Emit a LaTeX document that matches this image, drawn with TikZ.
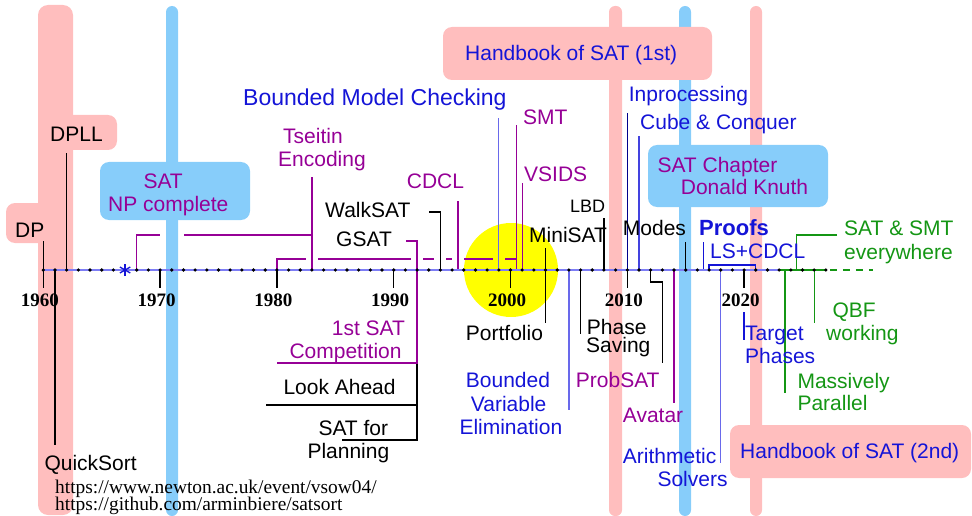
\documentclass[tikz,border=0pt]{standalone}
\usepackage{fontspec}
\setmainfont{Liberation Sans}
\newfontfamily\yearfont{Liberation Serif}

\definecolor{barpink}{RGB}{255,190,190}
\definecolor{barblue}{RGB}{135,205,250}
\definecolor{hlyellow}{RGB}{255,255,0}
\definecolor{evpurple}{RGB}{150,0,150}
\definecolor{evblue}{RGB}{20,20,215}
\definecolor{evgreen}{RGB}{20,150,20}
\definecolor{evlightblue}{RGB}{105,105,235}
\definecolor{evnavy}{RGB}{0,0,140}
\definecolor{axisblue}{RGB}{125,125,245}

\tikzset{
  txt/.style={anchor=base west, inner sep=0pt, font=\fontsize{21}{23.5}\selectfont},
  txtsmall/.style={txt, font=\fontsize{18}{20}\selectfont},
  txtbig/.style={txt, font=\fontsize{23}{26}\selectfont},
  txtbold/.style={txt, font=\bfseries\fontsize{22}{25}\selectfont},
  yearlbl/.style={anchor=base, inner sep=0pt, font=\yearfont\bfseries\fontsize{19}{19}\selectfont},
  urltxt/.style={anchor=base west, inner sep=0pt, font=\yearfont\fontsize{19.4}{17}\selectfont},
  link/.style={line width=1.3pt},
  pinkbar/.style={fill=barpink, rounded corners=6pt},
  bluebar/.style={fill=barblue, rounded corners=6pt},
  pinkbox/.style={fill=barpink, rounded corners=9pt},
  bluebox/.style={fill=barblue, rounded corners=9pt},
}

\begin{document}
\begin{tikzpicture}[x=1pt,y=-1pt,
  declare function={yx(\t)=43.3+11.68*(\t-1960);}]
\useasboundingbox (0,0) rectangle (972,516);

% positions of the years on the time line
\foreach \yr in {1960,...,2027}
  \coordinate (Y\yr) at ({yx(\yr)},270);
\coordinate (Ycdcl)   at ({yx(1995.5)},270);
\coordinate (Ysmt)    at ({yx(2000.5)},270);
\coordinate (Yproofs) at ({yx(2016.5)},270);
\coordinate (Ympar)   at ({yx(2023.5)},270);
\coordinate (Yall)    at ({yx(2024.5)},270);

% background bars and boxes
\fill[pinkbar, rounded corners=10pt] (38,5) rectangle (73,515);
\fill[bluebar] (166,6) rectangle (178,516);
\fill[pinkbar] (609,6) rectangle (622,516);
\fill[bluebar] (679,6) rectangle (691,516);
\fill[pinkbar] (750,6) rectangle (762,516);

\fill[pinkbox] (6,203) rectangle (50,243);
\fill[pinkbox] (45,115) rectangle (117,150);
\fill[bluebox] (100,162) rectangle (250,220);
\fill[pinkbox] (443,27) rectangle (712,80);
\fill[bluebox] (648,145) rectangle (828,207);
\fill[pinkbox] (730,425) rectangle (971,478);

\fill[hlyellow] (511,270) circle[radius=47pt];

% black connectors
\draw[link] (Y1960) -- ++(0,-29);
\draw[link] (Y1962) -- ++(0,-117);
\draw[link] (Y1961) -- ++(0,175);
\draw[link] (Y1994) |- (429,212);
\draw[link] (Y2003) ++(0,-22) -- ++(0,75);
\draw[link] (Y2008) -- ++(0,-52);
\draw[link] (Y2015) -- ++(0,-28);
\draw[link] (Y2006) -- ++(0,64);
\draw[link] (Y2012) -- ++(0,12) -| (662.3,363);
\draw[link] (266,405) -- (417.06,405);
\draw[link] (417.06,363) -- (417.06,440) -- (342,440);

% purple connectors
\draw[link, evpurple] (Y1968) |- (160,235);
\draw[link, evpurple] (184,235) -- (311.94,235);
\draw[link, evpurple] (Y1983) -- ++(0,-93);
\draw[link, evpurple] (Y1980) |- (306,259);
\draw[link, evpurple] (318,259) -- (411,259);
\draw[link, evpurple] (423,259) -- (434.4,259);
\draw[link, evpurple] (446.4,259) -- (452.3,259);
\draw[link, evpurple] (464.3,259) -- (493,259);
\draw[link, evpurple] (505,259) -- (516.7,259);
\draw[link, evpurple] (Ysmt) -- ++(0,-145);
\draw[link, evpurple] (406,241) -| (417.06,363) -- (276.9,363);
\draw[link, evpurple] (Ycdcl) -- ++(0,-69);
\draw[link, evpurple] (Y2001) -- ++(0,-87);
\draw[link, evpurple] (Y2014) -- ++(0,133);

% blue connectors
\draw[link, evlightblue] (Y1999) -- ++(0,-152);
\draw[link, evlightblue] (Y2005) -- ++(0,140);
\draw[link, evlightblue] (Y2018) -- ++(0,193);
\draw[link, evnavy] (Y2010) -- ++(0,-157);
\draw[link, evblue!80!white] (Y2011) -- ++(0,-134);
\draw[link, evblue] (Yproofs) -- ++(0,-28);
\draw[link, evblue] (Y2017) -- ++(0,-5) -| (Y2021);
\draw[link, evblue] (744.1,312) -- (744.1,340);

% green connectors
\draw[link, evgreen] (837,235) -| (Yall);
\draw[link, evgreen] (Y2026) -- ++(0,53);
\draw[link, evgreen] (Ympar) -- ++(0,123);

% time line
\draw[axisblue, line width=1.8pt] (Y1960) -- (779,270);
\draw[evgreen, line width=1.5pt] (779,270) -- (Y2027);
\draw[evgreen, line width=1.5pt, dash pattern=on 7pt off 6pt] (Y2027) ++(4,0) -- (873,270);
\foreach \yr in {1960,1970,...,2020}
  \draw[link] (Y\yr) -- ++(0,18);
\foreach \yr in {1960,...,2027}
  \fill (Y\yr) circle[radius=1.8pt];
\foreach \a in {90,30,150}
  \draw[evblue, line width=1.3pt] (Y1967) ++(\a:6) -- ++(\a+180:12);
\foreach \yr in {1960,1970,...,2020}
  \node[yearlbl] (L\yr) at ({yx(\yr)-3.5},306) {\yr};

% black labels
\node[txt] (dp) at (15,237.5) {DP};
\node[txt] (dpll) at (50,142) {DPLL};
\node[txt] (walksat) at (325,217.3) {WalkSAT};
\node[txt] (gsat) at (336,246.7) {GSAT};
\node[txt] (minisat) at (529,242.3) {MiniSAT};
\node[txtsmall] (lbd) at (570,212.3) {LBD};
\node[txt] (modes) at (622.7,235.7) {Modes};
\node[txt] (portfolio) at (465.7,340) {Portfolio};
\node[txt] (phaseA) at (586.7,334.3) {Phase};
\node[txt] (phaseB) at (586,352.7) {Saving};
\node[txt] (lookahead) at (283.3,394) {Look Ahead};
\node[txt] (planA) at (318.3,435) {SAT for};
\node[txt] (planB) at (307.3,458.3) {Planning};
\node[txt] (quicksort) at (44.3,470) {QuickSort};
\node[urltxt] (urlA) at (55,493.3) {https://www.newton.ac.uk/event/vsow04/};
\node[urltxt] (urlB) at (55,510) {https://github.com/arminbiere/satsort};

% purple labels
\node[txt, text=evpurple] (npA) at (143.3,188) {SAT};
\node[txt, text=evpurple] (npB) at (108,211.5) {NP complete};
\node[txt, text=evpurple] (tseitinA) at (283,143) {Tseitin};
\node[txt, text=evpurple] (tseitinB) at (278,166.5) {Encoding};
\node[txt, text=evpurple] (cdcl) at (406.7,189) {CDCL};
\node[txt, text=evpurple] (smt) at (523,124.3) {SMT};
\node[txt, text=evpurple] (vsids) at (524,181.7) {VSIDS};
\node[txt, text=evpurple] (knuthA) at (657.3,172.3) {SAT Chapter};
\node[txt, text=evpurple] (knuthB) at (680.7,194) {Donald Knuth};
\node[txt, text=evpurple] (compA) at (331.7,335) {1st SAT};
\node[txt, text=evpurple] (compB) at (289.3,358.3) {Competition};
\node[txt, text=evpurple] (probsat) at (575.7,387.3) {ProbSAT};
\node[txt, text=evpurple] (avatar) at (622.7,422.7) {Avatar};

% blue labels
\node[txtbig, text=evblue] (bmc) at (243,106) {Bounded Model Checking};
\node[txt, text=evblue] (hbA) at (465,60.7) {Handbook of SAT (1st)};
\node[txt, text=evblue] (inproc) at (628.7,101.7) {Inprocessing};
\node[txt, text=evblue] (cube) at (640,130) {Cube \& Conquer};
\node[txtbold, text=evblue] (proofs) at (699,235.7) {Proofs};
\node[txt, text=evblue] (lscdcl) at (710,258.3) {LS+CDCL};
\node[txt, text=evblue] (bveA) at (465.7,387.7) {Bounded};
\node[txt, text=evblue] (bveB) at (470.7,411.2) {Variable};
\node[txt, text=evblue] (bveC) at (459.3,434.7) {Elimination};
\node[txt, text=evblue] (targetA) at (745,340) {Target};
\node[txt, text=evblue] (targetB) at (745,363.3) {Phases};
\node[txt, text=evblue] (arithA) at (622.7,463.3) {Arithmetic};
\node[txt, text=evblue] (arithB) at (657.3,486.7) {Solvers};
\node[txt, text=evblue] (hbB) at (740,458.3) {Handbook of SAT (2nd)};

% green labels
\node[txt, text=evgreen] (allA) at (844,235.7) {SAT \& SMT};
\node[txt, text=evgreen] (allB) at (844,259.2) {everywhere};
\node[txt, text=evgreen] (qbfA) at (832.3,317.3) {QBF};
\node[txt, text=evgreen] (qbfB) at (826,340.7) {working};
\node[txt, text=evgreen] (mparA) at (797.3,388.3) {Massively};
\node[txt, text=evgreen] (mparB) at (797.3,410) {Parallel};
\end{tikzpicture}
\end{document}
